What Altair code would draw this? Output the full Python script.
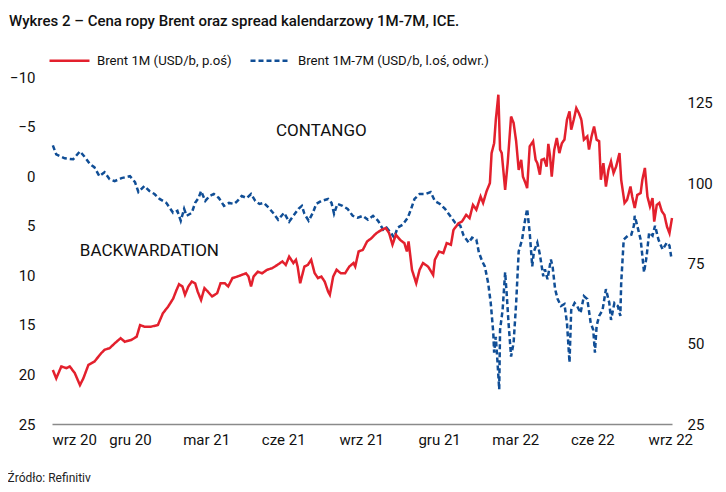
import altair as alt
import pandas as pd

RED = "#E3202D"
BLUE = "#104E96"
FONT = "Roboto, sans-serif"

RED_NAME = "Brent 1M (USD/b, p.oś)"
BLUE_NAME = "Brent 1M-7M (USD/b, l.oś, odwr.)"

brent_dates = [
    "2020-10-01", "2020-10-05", "2020-10-11", "2020-10-17", "2020-10-21", "2020-10-27",
    "2020-11-02", "2020-11-06", "2020-11-12", "2020-11-19", "2020-11-27", "2020-12-01",
    "2020-12-07", "2020-12-13", "2020-12-20", "2020-12-25", "2021-01-02", "2021-01-08",
    "2021-01-12", "2021-01-17", "2021-01-25", "2021-02-02", "2021-02-08", "2021-02-14",
    "2021-02-20", "2021-02-24", "2021-02-27", "2021-03-03", "2021-03-06", "2021-03-10",
    "2021-03-14", "2021-03-18", "2021-03-21", "2021-03-25", "2021-03-29", "2021-04-02",
    "2021-04-07", "2021-04-13", "2021-04-17", "2021-04-22", "2021-04-26", "2021-05-01",
    "2021-05-07", "2021-05-12", "2021-05-17", "2021-05-20", "2021-05-23", "2021-05-26",
    "2021-05-31", "2021-06-05", "2021-06-11", "2021-06-17", "2021-06-23", "2021-06-29",
    "2021-07-03", "2021-07-07", "2021-07-12", "2021-07-15", "2021-07-17", "2021-07-20",
    "2021-07-25", "2021-07-29", "2021-08-02", "2021-08-06", "2021-08-10", "2021-08-14",
    "2021-08-18", "2021-08-22", "2021-08-24", "2021-08-28", "2021-09-01", "2021-09-06",
    "2021-09-11", "2021-09-16", "2021-09-21", "2021-09-23", "2021-09-27", "2021-10-02",
    "2021-10-07", "2021-10-12", "2021-10-18", "2021-10-24", "2021-10-29", "2021-11-02",
    "2021-11-06", "2021-11-10", "2021-11-15", "2021-11-20", "2021-11-23", "2021-11-25",
    "2021-11-29", "2021-12-04", "2021-12-08", "2021-12-12", "2021-12-18", "2021-12-24",
    "2021-12-26", "2021-12-31", "2022-01-05", "2022-01-09", "2022-01-14", "2022-01-17",
    "2022-01-23", "2022-01-27", "2022-02-01", "2022-02-05", "2022-02-09", "2022-02-13",
    "2022-02-18", "2022-02-21", "2022-02-25", "2022-03-01", "2022-03-03", "2022-03-06",
    "2022-03-08", "2022-03-11", "2022-03-13", "2022-03-15", "2022-03-19", "2022-03-22",
    "2022-03-26", "2022-03-29", "2022-04-01", "2022-04-04", "2022-04-07", "2022-04-09",
    "2022-04-12", "2022-04-14", "2022-04-17", "2022-04-21", "2022-04-24", "2022-04-26",
    "2022-04-29", "2022-05-01", "2022-05-04", "2022-05-07", "2022-05-09", "2022-05-11",
    "2022-05-13", "2022-05-16", "2022-05-19", "2022-05-22", "2022-05-25", "2022-05-28",
    "2022-05-31", "2022-06-03", "2022-06-05", "2022-06-08", "2022-06-11", "2022-06-14",
    "2022-06-17", "2022-06-20", "2022-06-24", "2022-06-26", "2022-06-29", "2022-07-02",
    "2022-07-05", "2022-07-08", "2022-07-10", "2022-07-13", "2022-07-16", "2022-07-19",
    "2022-07-22", "2022-07-25", "2022-07-28", "2022-08-01", "2022-08-03", "2022-08-07",
    "2022-08-10", "2022-08-14", "2022-08-16", "2022-08-19", "2022-08-22", "2022-08-26",
    "2022-08-28", "2022-08-31", "2022-09-03", "2022-09-06", "2022-09-09", "2022-09-11",
    "2022-09-14", "2022-09-17", "2022-09-20", "2022-09-23", "2022-09-26", "2022-09-29",
    "2022-10-02",
]
brent_values = [
    41.8, 39.2, 42.9, 42.4, 42.9, 40.8,
    37.1, 39.2, 43.4, 44.4, 47.0, 48.1,
    48.6, 50.1, 51.7, 50.6, 51.2, 52.2,
    55.8, 55.3, 55.3, 55.8, 59.5, 61.5,
    64.0, 66.7, 68.5, 67.8, 65.2, 67.8,
    69.3, 68.8, 66.2, 63.6, 67.3, 66.2,
    64.7, 65.7, 68.8, 68.8, 67.8, 70.4,
    70.9, 71.4, 71.9, 70.9, 67.8, 70.9,
    72.4, 71.9, 73.0, 73.5, 74.5, 75.6,
    74.5, 77.1, 75.1, 76.1, 74.0, 68.8,
    74.0, 74.5, 76.1, 72.0, 70.4, 70.9,
    69.3, 66.2, 65.2, 70.9, 73.0, 71.9,
    71.9, 74.0, 75.1, 74.0, 78.7, 79.2,
    81.8, 82.8, 84.4, 85.4, 86.0, 84.4,
    80.8, 83.9, 82.3, 81.3, 78.7, 81.8,
    73.0, 68.8, 73.0, 75.1, 74.0, 71.4,
    76.1, 78.7, 78.2, 81.3, 80.8, 85.4,
    87.5, 88.0, 90.1, 89.1, 93.2, 91.7,
    95.8, 93.8, 97.4, 100.0, 109.3, 112.4,
    119.7, 127.5, 110.4, 109.3, 97.9, 106.2,
    120.7, 118.7, 113.0, 104.1, 107.2, 102.0,
    100.0, 98.4, 111.4, 113.0, 107.2, 106.2,
    102.6, 107.2, 107.5, 105.1, 112.2, 108.3,
    102.0, 110.4, 114.0, 109.3, 112.4, 113.5,
    119.7, 122.3, 116.6, 119.7, 123.3, 121.8,
    119.7, 113.5, 114.5, 110.4, 114.5, 117.6,
    113.5, 113.0, 101.0, 106.2, 98.9, 104.1,
    106.7, 103.1, 105.1, 109.3, 101.0, 93.8,
    94.8, 98.9, 95.8, 92.2, 96.3, 96.9,
    101.0, 104.7, 95.8, 92.7, 95.3, 88.0,
    93.2, 93.8, 91.2, 90.1, 86.5, 84.4,
    89.1,
]

spread_dates = [
    "2020-10-01", "2020-10-05", "2020-10-15", "2020-10-25", "2020-11-02", "2020-11-08",
    "2020-11-14", "2020-11-19", "2020-11-25", "2020-12-01", "2020-12-07", "2020-12-13",
    "2020-12-21", "2020-12-31", "2021-01-06", "2021-01-10", "2021-01-17", "2021-01-23",
    "2021-01-29", "2021-02-04", "2021-02-12", "2021-02-20", "2021-02-25", "2021-03-01",
    "2021-03-05", "2021-03-08", "2021-03-14", "2021-03-18", "2021-03-22", "2021-03-25",
    "2021-03-30", "2021-04-04", "2021-04-09", "2021-04-15", "2021-04-21", "2021-04-27",
    "2021-05-03", "2021-05-07", "2021-05-12", "2021-05-18", "2021-05-23", "2021-05-28",
    "2021-06-02", "2021-06-07", "2021-06-13", "2021-06-19", "2021-06-24", "2021-07-01",
    "2021-07-07", "2021-07-12", "2021-07-18", "2021-07-22", "2021-07-25", "2021-07-30",
    "2021-08-04", "2021-08-08", "2021-08-14", "2021-08-22", "2021-08-26", "2021-08-29",
    "2021-09-02", "2021-09-08", "2021-09-14", "2021-09-20", "2021-09-26", "2021-10-02",
    "2021-10-08", "2021-10-14", "2021-10-20", "2021-10-26", "2021-10-30", "2021-11-04",
    "2021-11-08", "2021-11-12", "2021-11-18", "2021-11-24", "2021-11-28", "2021-12-02",
    "2021-12-08", "2021-12-15", "2021-12-21", "2021-12-26", "2022-01-01", "2022-01-07",
    "2022-01-13", "2022-01-19", "2022-01-25", "2022-01-29", "2022-02-04", "2022-02-08",
    "2022-02-13", "2022-02-16", "2022-02-20", "2022-02-23", "2022-02-27", "2022-03-02",
    "2022-03-05", "2022-03-06", "2022-03-08", "2022-03-10", "2022-03-12", "2022-03-13",
    "2022-03-16", "2022-03-19", "2022-03-21", "2022-03-23", "2022-03-26", "2022-03-29",
    "2022-04-01", "2022-04-04", "2022-04-08", "2022-04-11", "2022-04-14", "2022-04-17",
    "2022-04-20", "2022-04-22", "2022-04-26", "2022-04-29", "2022-05-03", "2022-05-05",
    "2022-05-08", "2022-05-12", "2022-05-14", "2022-05-17", "2022-05-20", "2022-05-24",
    "2022-05-28", "2022-05-31", "2022-06-03", "2022-06-05", "2022-06-09", "2022-06-12",
    "2022-06-16", "2022-06-20", "2022-06-24", "2022-06-28", "2022-07-01", "2022-07-03",
    "2022-07-05", "2022-07-08", "2022-07-12", "2022-07-16", "2022-07-20", "2022-07-22",
    "2022-07-26", "2022-07-30", "2022-08-02", "2022-08-03", "2022-08-06", "2022-08-11",
    "2022-08-15", "2022-08-18", "2022-08-19", "2022-08-22", "2022-08-26", "2022-08-30",
    "2022-09-02", "2022-09-05", "2022-09-09", "2022-09-12", "2022-09-16", "2022-09-21",
    "2022-09-26", "2022-09-29", "2022-10-01",
]
spread_values = [
    -3.1, -2.2, -1.8, -1.7, -2.5, -1.9,
    -1.2, -0.9, 0.0, -0.4, 0.3, 0.5,
    0.2, 0.0, 0.6, 1.6, 1.0, 1.5,
    1.8, 2.3, 2.7, 3.7, 3.5, 4.5,
    3.3, 4.0, 3.7, 2.7, 2.2, 1.5,
    2.5, 2.0, 1.8, 2.2, 3.0, 2.7,
    2.8, 2.5, 2.0, 2.2, 1.8, 2.5,
    2.8, 2.7, 3.2, 3.8, 4.4, 3.7,
    4.6, 4.0, 3.3, 3.0, 3.8, 4.5,
    3.7, 2.8, 2.5, 2.3, 2.7, 3.8,
    2.8, 3.0, 3.3, 4.0, 4.2, 4.0,
    4.4, 4.0, 4.5, 5.4, 5.2, 5.7,
    6.2, 5.2, 4.9, 4.2, 3.3, 2.3,
    1.8, 1.8, 1.6, 2.5, 2.8, 3.3,
    4.0, 4.7, 5.0, 6.0, 6.7, 6.2,
    6.4, 7.7, 8.6, 9.1, 10.8, 12.8,
    15.8, 17.8, 16.2, 18.8, 21.5, 15.5,
    13.5, 9.7, 12.1, 14.8, 18.2, 16.8,
    12.8, 7.6, 6.4, 4.7, 3.3, 5.7,
    9.1, 7.6, 6.7, 7.9, 10.1, 9.4,
    10.4, 8.4, 9.1, 11.4, 12.4, 13.1,
    12.9, 14.8, 18.8, 13.5, 12.8, 13.1,
    13.8, 12.1, 12.4, 14.8, 15.5, 17.8,
    15.1, 14.1, 13.5, 11.4, 12.8, 14.5,
    12.8, 13.1, 14.1, 10.8, 6.4, 6.0,
    5.9, 5.0, 4.0, 5.0, 6.4, 9.7,
    8.1, 5.7, 6.0, 5.0, 6.4, 7.4,
    6.7, 7.0, 8.1,
]

ann_dates = ["2021-08-14", "2021-01-23"]
ann_values = [-4.6, 7.5]
ann_labels = ["CONTANGO", "BACKWARDATION"]

left_ticks = [-10, -5, 0, 5, 10, 15, 20, 25]
right_ticks = [25, 50, 75, 100, 125]
month_names = ["sty", "lut", "mar", "kwi", "maj", "cze", "lip", "sie", "wrz", "paź", "lis", "gru"]
x_tick_dates = [(2020, 9, 30), (2020, 12, 31), (2021, 3, 31), (2021, 6, 30), (2021, 9, 30),
                (2021, 12, 31), (2022, 3, 31), (2022, 6, 30), (2022, 9, 30)]

brent_df = pd.DataFrame({"date": brent_dates, "value": brent_values, "series": RED_NAME})
spread_df = pd.DataFrame({"date": spread_dates, "value": spread_values, "series": BLUE_NAME})
ann_df = pd.DataFrame({"date": ann_dates, "value": ann_values, "label": ann_labels})

months_js = "[" + ",".join("'" + m + "'" for m in month_names) + "]"
x_scale = alt.Scale(domain=[alt.DateTime(year=2020, month=9, date=30),
                            alt.DateTime(year=2022, month=10, date=2)], nice=False)
x_axis = alt.Axis(
    values=[alt.DateTime(year=y, month=m, date=d) for (y, m, d) in x_tick_dates],
    labelExpr=months_js + "[month(datum.value)] + ' ' + timeFormat(datum.value, '%y')",
    domain=True, domainColor="#8a8a8a", domainWidth=1.5, ticks=False, tickSize=0,
    labelPadding=8, labelFontSize=15, labelAngle=0,
    title="Źródło: Refinitiv", titleAnchor="start", titleAlign="left", titleX=-45, titleY=48,
    titleFontSize=12, titleFontWeight="normal", titleFont=FONT, titleColor="#222222",
)
x_enc = alt.X("date:T", scale=x_scale, axis=x_axis)

legend = alt.Legend(
    title=None, orient="none", legendX=-4, legendY=-38, direction="horizontal", columns=2,
    symbolType="stroke", symbolSize=1600, symbolStrokeWidth=2.5, labelFontSize=13.2,
    labelFont=FONT, labelColor="#111111", columnPadding=13, labelOffset=6, padding=0,
    labelLimit=400,
)
color_enc = alt.Color("series:N", scale=alt.Scale(domain=[RED_NAME, BLUE_NAME], range=[RED, BLUE]),
                      legend=legend)
dash_enc = alt.StrokeDash("series:N", scale=alt.Scale(domain=[RED_NAME, BLUE_NAME],
                                                      range=[[1, 0], [5, 3]]), legend=legend)

left_scale = alt.Scale(domain=[-10, 25], reverse=True, nice=False, zero=False)

blue = alt.Chart(spread_df).mark_line(strokeWidth=2.5).encode(
    x=x_enc,
    y=alt.Y("value:Q", scale=left_scale,
            axis=alt.Axis(orient="left", values=left_ticks, title=None, domain=False, ticks=False,
                          tickSize=0, labelPadding=17, grid=False, labelFontSize=15)),
    color=color_enc, strokeDash=dash_enc,
)

red = alt.Chart(brent_df).mark_line(strokeWidth=2.5).encode(
    x=x_enc,
    y=alt.Y("value:Q", scale=alt.Scale(domain=[25, 133], nice=False, zero=False),
            axis=alt.Axis(orient="right", values=right_ticks, title=None, domain=False, ticks=False,
                          tickSize=0, labelPadding=15, grid=False, labelFontSize=15)),
    color=color_enc, strokeDash=dash_enc,
)

ann = alt.Chart(ann_df).mark_text(fontSize=17, font=FONT, color="#111111", align="center",
                                  baseline="middle").encode(
    x=x_enc,
    y=alt.Y("value:Q", scale=left_scale, axis=None),
    text="label:N",
)

chart = alt.layer(blue, ann, red).resolve_scale(y="independent").properties(
    width=620, height=347,
    autosize=alt.AutoSizeParams(type="none"),
    padding={"left": 44, "top": 69, "right": 46, "bottom": 60},
    title=alt.TitleParams(
        "Wykres 2 – Cena ropy Brent oraz spread kalendarzowy 1M-7M, ICE.",
        anchor="start", dx=-43, dy=17, offset=12, baseline="bottom", fontSize=15,
        fontWeight=500, font=FONT, color="#111111", frame="group",
    ),
).configure_axis(
    labelFont=FONT, labelColor="#111111", grid=False,
).configure_view(stroke=None)

chart.save("out.html", embed_options={"renderer": "svg", "actions": False})
